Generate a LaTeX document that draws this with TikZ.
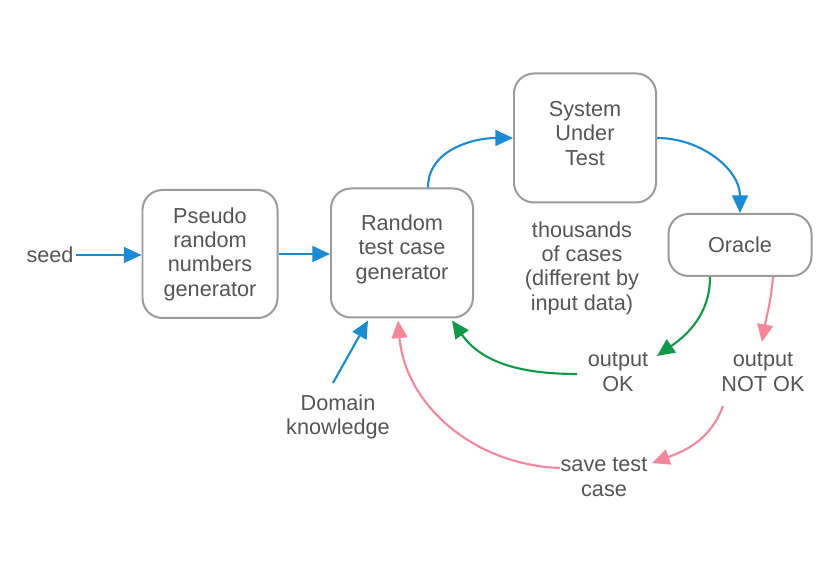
\documentclass[tikz,border=0pt]{standalone}
\usepackage{fontspec}
\setmainfont{Liberation Sans}
\usetikzlibrary{calc,arrows.meta}
\definecolor{flowBlue}{RGB}{27,139,212}
\definecolor{flowGreen}{RGB}{17,153,74}
\definecolor{flowPink}{RGB}{244,135,154}
\definecolor{boxGray}{RGB}{155,155,155}
\definecolor{textGray}{RGB}{85,85,85}
\tikzset{
  txt/.style={text=textGray,align=center,inner sep=2pt,font=\fontsize{18.5}{20.8}\selectfont},
  stage/.style={txt,draw=boxGray,line width=1.7pt,rounded corners=17pt},
  flow/.style={line width=1.8pt,-{Triangle[length=15pt,width=13.5pt]}}
}
\begin{document}
\begin{tikzpicture}[x=0.03cm,y=0.03cm]
\useasboundingbox[fill=white] (0,0) rectangle (840,571);
% boxes
\node[stage,minimum width=4.05cm,minimum height=3.84cm] (prng) at (210,317) {Pseudo\\random\\numbers\\generator};
\node[stage,minimum width=4.26cm,minimum height=3.87cm] (gen) at (402,318) {Random\\test case\\generator\\[-17pt]\strut};
\node[stage,minimum width=4.26cm,minimum height=3.87cm] (sut) at (585,433) {System\\Under\\Test\\[-19pt]\strut};
\node[stage,minimum width=4.29cm,minimum height=1.86cm] (oracle) at (740,326) {Oracle};
% labels
\node[txt] (seed) at (50,316) {seed};
\node[txt] (cases) at (582,303) {thousands\\of cases\\(different by\\input data)};
\node[txt] (ok) at (618,199) {output\\OK};
\node[txt] (notok) at (763,199) {output\\NOT OK};
\node[txt] (domain) at (338,154) {Domain\\knowledge};
\node[txt] (save) at (604,94) {save test\\case};
% blue arrows
\draw[flow,flowBlue] (seed.east) -- (seed.east -| prng.west);
\draw[flow,flowBlue] (prng.east) -- (prng.east -| gen.west);
\draw[flow,flowBlue] ($(gen.north)+(26,0)$) to[out=90,in=180] (sut.west);
\draw[flow,flowBlue] (sut.east) to[out=0,in=90] (oracle.north);
\draw[flow,flowBlue] ($(domain)+(-5,34)$) -- ($(gen.south)+(-34,-2)$);
% green arrows
\draw[flow,flowGreen] ($(oracle.south)+(-30,0)$) to[out=-90,in=35] ($(ok)+(39,16)$);
\draw[flow,flowGreen] ($(ok)+(-41,-2)$) to[out=180,in=-55] ($(gen.south)+(50,-2)$);
% pink arrows
\draw[flow,flowPink] ($(oracle.south)+(33,0)$) to[out=-95,in=80] ($(notok)+(-1,30)$);
\draw[flow,flowPink] ($(notok)+(-40,-34)$) to[out=-110,in=20] ($(save)+(48,14)$);
\draw[flow,flowPink] ($(save)+(-44,9)$) to[out=178,in=-85] ($(gen.south)+(-4,-2)$);
\end{tikzpicture}
\end{document}
